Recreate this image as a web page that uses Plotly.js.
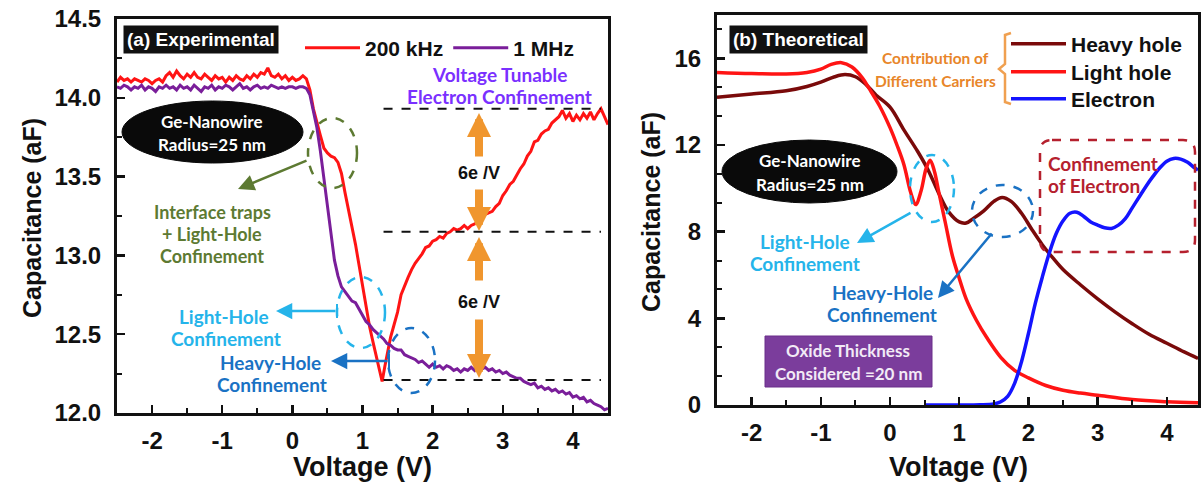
<!DOCTYPE html>
<html><head><meta charset="utf-8">
<script src="https://cdn.plot.ly/plotly-3.0.1.min.js"></script>
<style>html,body{margin:0;padding:0;background:#fff}#chart{width:1201px;height:484px}</style>
</head><body><div id="chart"></div>
<script>
// ---------- Panel (a) Experimental ----------
const voltA200k = [-2.50,-2.45,-2.40,-2.35,-2.30,-2.25,-2.20,-2.15,-2.10,-2.05,-2.00,-1.95,-1.90,-1.85,-1.80,-1.75,-1.70,-1.65,-1.60,-1.55,-1.50,-1.45,-1.40,-1.35,-1.30,-1.25,-1.20,-1.15,-1.10,-1.05,-1.00,-0.95,-0.90,-0.85,-0.80,-0.75,-0.70,-0.65,-0.60,-0.55,-0.50,-0.45,-0.40,-0.35,-0.30,-0.25,-0.20,-0.15,-0.10,-0.05,0.00,0.05,0.10,0.15,0.20,0.25,0.30,0.35,0.40,0.45,0.50,0.55,0.60,0.65,0.70,0.75,0.80,0.85,0.90,0.95,1.00,1.05,1.10,1.15,1.20,1.25,1.28,1.32,1.36,1.40,1.45,1.50,1.55,1.60,1.65,1.70,1.75,1.80,1.85,1.90,1.95,2.00,2.05,2.10,2.15,2.20,2.25,2.30,2.35,2.40,2.45,2.50,2.55,2.60,2.65,2.70,2.75,2.80,2.85,2.90,2.95,3.00,3.05,3.10,3.15,3.20,3.25,3.30,3.35,3.40,3.45,3.50,3.55,3.60,3.65,3.70,3.75,3.80,3.85,3.90,3.95,4.00,4.05,4.10,4.15,4.20,4.25,4.30,4.35,4.40,4.45,4.50];
const cap200k = [14.10,14.13,14.11,14.12,14.10,14.12,14.11,14.10,14.12,14.11,14.09,14.11,14.12,14.10,14.14,14.16,14.13,14.17,14.14,14.12,14.15,14.13,14.16,14.13,14.12,14.15,14.13,14.11,14.14,14.12,14.13,14.10,14.13,14.11,14.14,14.12,14.11,14.14,14.12,14.15,14.13,14.16,14.15,14.19,14.14,14.13,14.15,14.12,14.14,14.11,14.13,14.11,14.12,14.14,14.12,14.05,13.93,13.84,13.76,13.68,13.65,13.63,13.62,13.59,13.52,13.40,13.29,13.19,13.07,12.94,12.81,12.68,12.55,12.45,12.35,12.24,12.20,12.30,12.40,12.48,12.56,12.64,12.75,12.81,12.86,12.91,12.95,12.98,13.01,13.05,13.06,13.09,13.10,13.12,13.11,13.14,13.15,13.17,13.16,13.17,13.19,13.17,13.19,13.20,13.21,13.25,13.26,13.27,13.28,13.31,13.33,13.38,13.41,13.45,13.47,13.51,13.55,13.58,13.63,13.66,13.72,13.73,13.77,13.79,13.80,13.84,13.86,13.88,13.92,13.87,13.90,13.85,13.89,13.86,13.90,13.87,13.91,13.86,13.90,13.93,13.88,13.83];
const voltA1M = [-2.50,-2.45,-2.40,-2.35,-2.30,-2.25,-2.20,-2.15,-2.10,-2.05,-2.00,-1.95,-1.90,-1.85,-1.80,-1.75,-1.70,-1.65,-1.60,-1.55,-1.50,-1.45,-1.40,-1.35,-1.30,-1.25,-1.20,-1.15,-1.10,-1.05,-1.00,-0.95,-0.90,-0.85,-0.80,-0.75,-0.70,-0.65,-0.60,-0.55,-0.50,-0.45,-0.40,-0.35,-0.30,-0.25,-0.20,-0.15,-0.10,-0.05,0.00,0.05,0.10,0.15,0.20,0.25,0.30,0.35,0.40,0.45,0.50,0.55,0.60,0.65,0.70,0.75,0.80,0.85,0.90,0.95,1.00,1.05,1.10,1.15,1.20,1.25,1.30,1.35,1.40,1.45,1.50,1.55,1.60,1.65,1.70,1.75,1.80,1.85,1.90,1.95,2.00,2.05,2.10,2.15,2.20,2.25,2.30,2.35,2.40,2.45,2.50,2.55,2.60,2.65,2.70,2.75,2.80,2.85,2.90,2.95,3.00,3.05,3.10,3.15,3.20,3.25,3.30,3.35,3.40,3.45,3.50,3.55,3.60,3.65,3.70,3.75,3.80,3.85,3.90,3.95,4.00,4.05,4.10,4.15,4.20,4.25,4.30,4.35,4.40,4.45,4.50];
const cap1M = [14.07,14.06,14.08,14.07,14.05,14.07,14.06,14.08,14.05,14.07,14.06,14.04,14.07,14.06,14.08,14.06,14.07,14.05,14.08,14.06,14.07,14.05,14.08,14.06,14.04,14.07,14.06,14.08,14.05,14.07,14.06,14.08,14.07,14.05,14.07,14.09,14.06,14.07,14.05,14.07,14.08,14.06,14.07,14.06,14.08,14.07,14.06,14.07,14.06,14.07,14.07,14.06,14.07,14.07,14.06,14.02,13.92,13.81,13.66,13.49,13.32,13.12,12.97,12.87,12.80,12.77,12.74,12.71,12.70,12.66,12.62,12.58,12.56,12.53,12.51,12.49,12.47,12.44,12.43,12.41,12.40,12.40,12.37,12.36,12.35,12.34,12.32,12.33,12.31,12.29,12.31,12.29,12.30,12.28,12.30,12.29,12.27,12.28,12.26,12.28,12.27,12.29,12.27,12.30,12.28,12.29,12.27,12.28,12.26,12.27,12.25,12.26,12.24,12.23,12.22,12.22,12.20,12.19,12.18,12.19,12.16,12.17,12.15,12.16,12.14,12.15,12.13,12.14,12.12,12.13,12.10,12.11,12.09,12.10,12.07,12.08,12.06,12.05,12.04,12.02,12.03];
// dashed reference levels (aF) and their voltage span
const levelsA = [13.93, 13.15, 12.21];
const levelSpan = [1.3, 4.4];
// tick labels
const voltTicks = [-2, -1, 0, 1, 2, 3, 4];
const voltTickText = ['-2', '-1', '0', '1', '2', '3', '4'];
const capTicksA = [12.0, 12.5, 13.0, 13.5, 14.0, 14.5];
const capTickTextA = ['12.0', '12.5', '13.0', '13.5', '14.0', '14.5'];
const capTicksB = [0, 4, 8, 12, 16];
const capTickTextB = ['0', '4', '8', '12', '16'];

// ---------- Panel (b) Theoretical ----------
const voltHeavy = [-2.5,-2.0,-1.5,-1.2,-1.0,-0.8,-0.65,-0.5,-0.35,-0.2,0.0,0.2,0.4,0.55,0.7,0.85,1.0,1.1,1.2,1.35,1.5,1.62,1.75,1.9,2.05,2.2,2.35,2.5,2.75,3.0,3.25,3.5,3.75,4.0,4.25,4.45];
const capHeavy  = [14.2,14.35,14.5,14.7,14.9,15.15,15.25,15.15,14.8,14.3,13.75,12.7,11.7,10.85,9.8,8.9,8.45,8.4,8.6,8.95,9.4,9.58,9.4,8.85,8.1,7.4,6.8,6.25,5.55,4.9,4.3,3.75,3.25,2.85,2.45,2.15];
const voltLight = [-2.5,-2.0,-1.5,-1.2,-1.0,-0.85,-0.7,-0.55,-0.4,-0.3,-0.15,0.0,0.1,0.2,0.3,0.37,0.45,0.52,0.58,0.64,0.7,0.8,0.9,1.0,1.1,1.25,1.4,1.6,1.8,2.0,2.25,2.5,2.75,3.0,3.5,4.0,4.45];
const capLight  = [15.35,15.3,15.28,15.35,15.5,15.72,15.8,15.6,15.1,14.6,13.8,12.8,12.0,11.1,9.8,9.25,9.9,10.9,11.3,10.8,9.9,8.4,6.9,5.85,4.9,3.9,3.1,2.2,1.6,1.25,0.9,0.68,0.55,0.45,0.25,0.15,0.1];
const voltElec  = [0.5,1.0,1.3,1.5,1.6,1.7,1.8,1.9,2.0,2.1,2.2,2.3,2.4,2.5,2.6,2.7,2.8,2.9,3.0,3.1,3.2,3.3,3.4,3.5,3.6,3.7,3.8,3.9,4.0,4.1,4.2,4.3,4.4,4.45];
const capElec   = [0,0,0.01,0.05,0.15,0.4,1.0,2.0,3.3,4.7,5.9,7.0,7.9,8.5,8.85,8.9,8.7,8.45,8.3,8.18,8.15,8.3,8.6,9.1,9.6,10.1,10.55,10.95,11.25,11.38,11.35,11.2,10.95,10.85];

// ---------- layout helpers (pixel -> paper) ----------
const W = 1201, H = 484;
const X = p => p / W, Y = p => 1 - p / H;
const AF = 'Liberation Sans, Arial, sans-serif';
const NF = 'Lato, Open Sans, sans-serif';

const traces = [
  {x: voltA200k, y: cap200k, name: '200 kHz', type: 'scatter', mode: 'lines', line: {color: '#ff1414', width: 3}, xaxis: 'x', yaxis: 'y', legend: 'legend'},
  {x: voltA1M, y: cap1M, name: '1 MHz', type: 'scatter', mode: 'lines', line: {color: '#7a1e9a', width: 3}, xaxis: 'x', yaxis: 'y', legend: 'legend'},
  {x: voltHeavy, y: capHeavy, name: 'Heavy hole', type: 'scatter', mode: 'lines', line: {color: '#7a0a0a', width: 3.5, shape: 'spline'}, xaxis: 'x2', yaxis: 'y2', legend: 'legend2'},
  {x: voltLight, y: capLight, name: 'Light hole', type: 'scatter', mode: 'lines', line: {color: '#ff1414', width: 3.5, shape: 'spline'}, xaxis: 'x2', yaxis: 'y2', legend: 'legend3'},
  {x: voltElec, y: capElec, name: 'Electron', type: 'scatter', mode: 'lines', line: {color: '#1414ff', width: 3.5, shape: 'spline'}, xaxis: 'x2', yaxis: 'y2', legend: 'legend4'}
];

const tickFont = {family: AF, size: 24, color: '#111', weight: 'bold'};
const axBase = {showline: true, linewidth: 3, linecolor: '#111', mirror: true, ticks: 'inside', ticklen: 8, tickwidth: 2.5, tickcolor: '#111', showgrid: false, zeroline: false, tickfont: tickFont, tickmode: 'array'};

const shapes = [];
const ann = [];

// dashed level lines (panel a)
levelsA.forEach(v => shapes.push({type: 'line', xref: 'x', yref: 'y', x0: levelSpan[0], x1: levelSpan[1], y0: v, y1: v, line: {color: '#111', width: 2, dash: 'dash'}}));

function ellipse(x0, y0, x1, y1, opts) {
  shapes.push(Object.assign({type: 'circle', xref: 'paper', yref: 'paper', x0: X(x0), x1: X(x1), y0: Y(y1), y1: Y(y0)}, opts));
}
function seg(x0, y0, x1, y1, color, w) {
  shapes.push({type: 'line', xref: 'paper', yref: 'paper', x0: X(x0), x1: X(x1), y0: Y(y0), y1: Y(y1), line: {color: color, width: w}});
}
function text(x, y, t, size, color, extra) {
  ann.push(Object.assign({xref: 'paper', yref: 'paper', x: X(x), y: Y(y), text: t, showarrow: false, font: {family: NF, size: size, color: color}, xanchor: 'center', yanchor: 'middle'}, extra || {}));
}
function arrow(hx, hy, tx, ty, color, w, head, size) {
  ann.push({xref: 'paper', yref: 'paper', x: X(hx), y: Y(hy), ax: tx - hx, ay: ty - hy, axref: 'pixel', ayref: 'pixel', text: '', showarrow: true, arrowcolor: color, arrowwidth: w, arrowhead: head, arrowsize: size});
}

// ----- panel (a) decorations -----
text(201, 39, '<b>(a) Experimental</b>', 19, '#fff', {bgcolor: '#111', borderpad: 3, font: {family: AF, size: 19, color: '#fff'}});
text(499, 74, '<b>Voltage Tunable</b>', 19, '#7a30ff');
text(499, 96, '<b>Electron Confinement</b>', 19, '#7a30ff');
ellipse(122, 101, 303, 163, {fillcolor: '#0a0a0a', line: {color: '#0a0a0a', width: 1}});
text(212, 121, '<b>Ge-Nanowire</b>', 17, '#fff');
text(212, 144, '<b>Radius=25 nm</b>', 17, '#fff');
ellipse(308, 118, 357, 188, {line: {color: '#5d7a32', width: 2.5, dash: 'dash'}});
arrow(238, 189, 308, 160, '#5d7a32', 2.5, 2, 1.3);
text(212, 212, '<b>Interface traps</b>', 18, '#5d7a32');
text(212, 234, '<b>+ Light-Hole</b>', 18, '#5d7a32');
text(212, 256, '<b>Confinement</b>', 18, '#5d7a32');
ellipse(337, 277, 385, 348, {line: {color: '#25b4ea', width: 2.5, dash: 'dash'}});
arrow(276, 311, 337, 311, '#25b4ea', 2.5, 2, 1.3);
seg(337, 304, 337, 318, '#25b4ea', 2);
text(224, 316, '<b>Light-Hole</b>', 19, '#25b4ea');
text(226, 338, '<b>Confinement</b>', 19, '#25b4ea');
ellipse(388, 328, 435, 393, {line: {color: '#1a72c4', width: 2.5, dash: 'dash'}});
arrow(331, 361, 389, 361, '#1a72c4', 2.5, 2, 1.3);
seg(389, 354, 389, 368, '#1a72c4', 2);
text(270, 362, '<b>Heavy-Hole</b>', 19, '#1a72c4');
text(272, 384, '<b>Confinement</b>', 19, '#1a72c4');
// orange voltage-step arrows
arrow(479, 113, 479, 158, '#f0962e', 8, 2, 0.6);
arrow(479, 231, 479, 188, '#f0962e', 8, 2, 0.6);
arrow(479, 237, 479, 282, '#f0962e', 8, 2, 0.6);
arrow(479, 378, 479, 318, '#f0962e', 8, 2, 0.6);
text(479, 173, '<b>6e /V</b>', 18, '#111', {font: {family: AF, size: 18, color: '#111'}});
text(479, 302, '<b>6e /V</b>', 18, '#111', {font: {family: AF, size: 18, color: '#111'}});

// ----- panel (b) decorations -----
text(798, 40, '<b>(b) Theoretical</b>', 19, '#fff', {bgcolor: '#111', borderpad: 3, font: {family: AF, size: 19, color: '#fff'}});
text(935, 58, '<b>Contribution of</b>', 15.5, '#e8862a');
text(935, 81, '<b>Different Carriers</b>', 15.5, '#e8862a');
shapes.push({type: 'path', xref: 'paper', yref: 'paper',
  path: `M ${X(1011)},${Y(33)} L ${X(1005)},${Y(35)} L ${X(1005)},${Y(64)} L ${X(999)},${Y(69)} L ${X(1005)},${Y(74)} L ${X(1005)},${Y(102)} L ${X(1011)},${Y(104)}`,
  line: {color: '#f0a050', width: 2.5}});
ellipse(722, 140, 897, 203, {fillcolor: '#0a0a0a', line: {color: '#0a0a0a', width: 1}});
text(810, 161, '<b>Ge-Nanowire</b>', 17, '#fff');
text(810, 184, '<b>Radius=25 nm</b>', 17, '#fff');
ellipse(910, 155, 954, 222, {line: {color: '#25b4ea', width: 2.5, dash: 'dash'}});
arrow(857, 243, 912, 212, '#25b4ea', 2.5, 2, 1.3);
text(805, 241, '<b>Light-Hole</b>', 19, '#25b4ea');
text(805, 263, '<b>Confinement</b>', 19, '#25b4ea');
ellipse(972, 185, 1033, 237, {line: {color: '#1a72c4', width: 2.5, dash: 'dash'}});
arrow(938, 298, 993, 232, '#1a72c4', 2.5, 2, 1.3);
text(882, 292, '<b>Heavy-Hole</b>', 19, '#1a72c4');
text(882, 314, '<b>Confinement</b>', 19, '#1a72c4');
// rounded dashed box
(function () {
  const x0 = 1040, x1 = 1195, y0 = 140, y1 = 252, r = 12;
  const p = `M ${X(x0 + r)},${Y(y0)} L ${X(x1 - r)},${Y(y0)} Q ${X(x1)},${Y(y0)} ${X(x1)},${Y(y0 + r)} L ${X(x1)},${Y(y1 - r)} Q ${X(x1)},${Y(y1)} ${X(x1 - r)},${Y(y1)} L ${X(x0 + r)},${Y(y1)} Q ${X(x0)},${Y(y1)} ${X(x0)},${Y(y1 - r)} L ${X(x0)},${Y(y0 + r)} Q ${X(x0)},${Y(y0)} ${X(x0 + r)},${Y(y0)} Z`;
  shapes.push({type: 'path', xref: 'paper', yref: 'paper', path: p, line: {color: '#b5202e', width: 2.5, dash: 'dash'}});
})();
text(1046, 163, '<b>Confinement</b>', 19, '#b5202e', {xanchor: 'left'});
text(1046, 185, '<b>of Electron</b>', 19, '#b5202e', {xanchor: 'left'});
shapes.push({type: 'rect', xref: 'paper', yref: 'paper', x0: X(765), x1: X(932), y0: Y(387), y1: Y(336), fillcolor: '#7b3d9c', line: {color: '#6a2f8a', width: 1}});
text(848, 350, '<b>Oxide Thickness</b>', 17, '#f2eaf6');
text(848, 373, '<b>Considered =20 nm</b>', 17, '#f2eaf6');

// axis titles
const tt = (x, y, t, ang, sz) => ann.push({xref: 'paper', yref: 'paper', x: X(x), y: Y(y), text: t, textangle: ang, showarrow: false, font: {family: AF, size: sz, color: '#111'}, xanchor: 'center', yanchor: 'middle'});
tt(32, 218, '<b>Capacitance (aF)</b>', -90, 25);
tt(362, 467, '<b>Voltage (V)</b>', 0, 27);
tt(651, 212, '<b>Capacitance (aF)</b>', -90, 25);
tt(958, 467, '<b>Voltage (V)</b>', 0, 27);

const minorX = {ticks: 'inside', dtick: 0.5, tick0: 0, ticklen: 5, tickwidth: 2, tickcolor: '#111'};
const legFont = sz => ({family: AF, size: sz, color: '#111', weight: 'bold'});
const layout = {
  width: W, height: H, margin: {l: 0, r: 0, t: 0, b: 0}, paper_bgcolor: '#fff', plot_bgcolor: '#fff',
  font: {family: AF, color: '#111'},
  showlegend: true,
  xaxis: Object.assign({}, axBase, {domain: [X(117), X(608)], range: [-2.5, 4.5], tickvals: voltTicks, ticktext: voltTickText, anchor: 'y', ticklabelstandoff: 4, minor: minorX}),
  yaxis: Object.assign({}, axBase, {domain: [Y(413), Y(19)], range: [12.0, 14.5], tickvals: capTicksA, ticktext: capTickTextA, anchor: 'x', ticklabelstandoff: 8, minor: {ticks: 'inside', dtick: 0.25, tick0: 12, ticklen: 5, tickwidth: 2, tickcolor: '#111'}}),
  xaxis2: Object.assign({}, axBase, {domain: [X(717), X(1198)], range: [-2.5, 4.45], tickvals: voltTicks, ticktext: voltTickText, anchor: 'y2', ticklabelstandoff: 4, minor: minorX}),
  yaxis2: Object.assign({}, axBase, {domain: [Y(405), Y(15)], range: [0, 18], tickvals: capTicksB, ticktext: capTickTextB, anchor: 'x2', ticklabelstandoff: 8, minor: {ticks: 'inside', dtick: 4 / 3, tick0: 0, ticklen: 5, tickwidth: 2, tickcolor: '#111'}}),
  legend: {orientation: 'h', x: X(300), y: Y(48), xanchor: 'left', yanchor: 'middle', bgcolor: 'rgba(0,0,0,0)', itemwidth: 55, font: legFont(21)},
  legend2: {orientation: 'v', x: X(1006), y: Y(44), xanchor: 'left', yanchor: 'middle', bgcolor: 'rgba(0,0,0,0)', itemwidth: 55, font: legFont(21)},
  legend3: {orientation: 'v', x: X(1006), y: Y(72), xanchor: 'left', yanchor: 'middle', bgcolor: 'rgba(0,0,0,0)', itemwidth: 55, font: legFont(21)},
  legend4: {orientation: 'v', x: X(1006), y: Y(99), xanchor: 'left', yanchor: 'middle', bgcolor: 'rgba(0,0,0,0)', itemwidth: 55, font: legFont(21)},
  shapes: shapes, annotations: ann
};

Plotly.newPlot('chart', traces, layout, {displayModeBar: false, staticPlot: true});
</script></body></html>
